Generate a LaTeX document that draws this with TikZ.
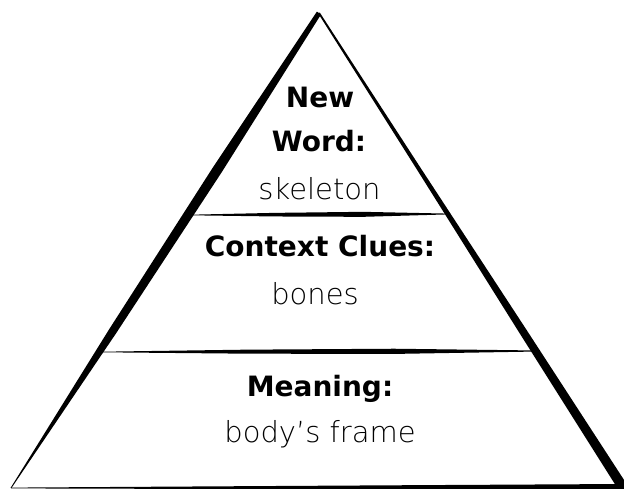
\documentclass[tikz,border=0pt]{standalone}
\usepackage{fontspec}
\usetikzlibrary{calc}
\newfontfamily\labelfont{DejaVu Sans}
\IfFontExistsTF{DejaVu Sans ExtraLight}
  {\newfontfamily\wordfont{DejaVu Sans ExtraLight}}
  {\newfontfamily\wordfont{DejaVu Sans}}
% tapered ink stroke: from, to, half widths at 0, 1/3, 2/3, 1
\newcommand{\inkstroke}[6]{%
  \coordinate (ink-a) at ($(#1)!0.33!(#2)$);
  \coordinate (ink-b) at ($(#1)!0.67!(#2)$);
  \fill ($(#1)!#3!90:(#2)$) -- ($(ink-a)!#4!90:(#2)$) -- ($(ink-b)!#5!90:(#2)$) -- ($(#2)!#6!-90:(#1)$)
     -- ($(#2)!#6!90:(#1)$) -- ($(ink-b)!#5!-90:(#2)$) -- ($(ink-a)!#4!-90:(#2)$) -- ($(#1)!#3!-90:(#2)$) -- cycle;}
\begin{document}
\begin{tikzpicture}[x=1pt,y=-1pt,
  head/.style={font=\labelfont\bfseries\fontsize{28}{30}\selectfont,anchor=base,inner sep=0pt},
  word/.style={font=\wordfont\fontsize{29}{31}\selectfont,anchor=base,inner sep=0pt}]
\useasboundingbox (0,0) rectangle (624,489);
\coordinate (apex) at (319,13);
\coordinate (bl) at (11,488);
\coordinate (br) at (622,486);
\coordinate (baseR) at (624,487);
\coordinate (t1L) at (190,215);
\coordinate (t1R) at (448,214);
\coordinate (t2L) at (102,352);
\coordinate (t2R) at (538,351);
\inkstroke{apex}{bl}{2.5pt}{5pt}{4pt}{0.4pt}
\inkstroke{apex}{br}{0.9pt}{2pt}{3.8pt}{5pt}
\inkstroke{bl}{baseR}{0.4pt}{1.3pt}{2.2pt}{3pt}
\inkstroke{t1L}{t1R}{0.3pt}{1.8pt}{2.5pt}{0.4pt}
\inkstroke{t2L}{t2R}{0.3pt}{2pt}{2.6pt}{0.5pt}
\node[head] (new) at (320,108) {New};
\node[head] (wordlbl) at (319,152) {Word:};
\node[word] (skeleton) at (319.5,200) {skeleton};
\node[head] (clues) at (320,257) {Context Clues:};
\node[word] (bones) at (315,305) {bones};
\node[head] (meaning) at (320,396) {Meaning:};
\node[word] (frame) at (320,442) {body’s frame};
\end{tikzpicture}
\end{document}
